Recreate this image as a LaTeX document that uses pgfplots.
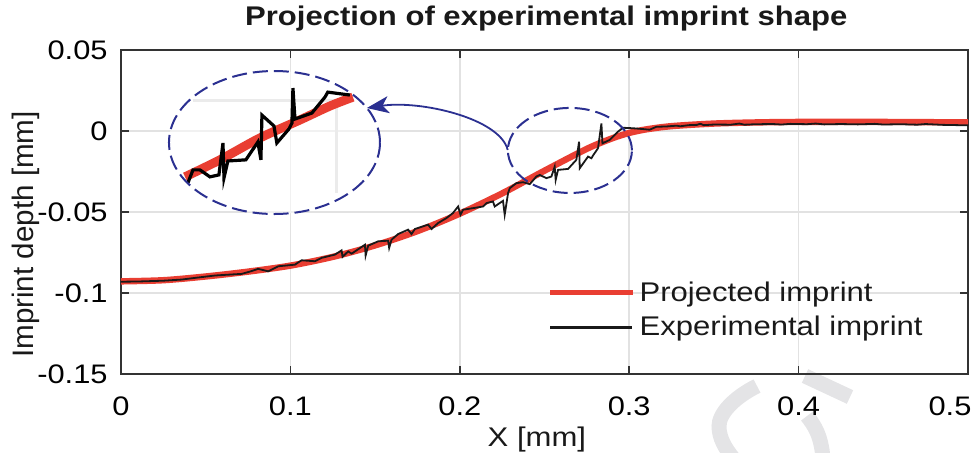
\documentclass[border=0pt]{standalone}
\usepackage{fontspec}
\usepackage{pgfplots}
\pgfplotsset{compat=1.18}
\usetikzlibrary{arrows.meta}
\newfontfamily\hfont{Liberation Sans}[FakeStretch=1.15]
\newfontfamily\vfont{Liberation Sans}
\definecolor{cred}{RGB}{233,62,50}
\definecolor{cblk}{RGB}{25,25,25}
\definecolor{cnavy}{RGB}{43,48,145}
\definecolor{cgrid}{RGB}{226,226,226}
\definecolor{caxis}{RGB}{51,51,51}
\definecolor{cwm}{RGB}{228,228,230}
\begin{document}
\begin{tikzpicture}
\useasboundingbox (-60.5pt,-39pt) rectangle (426pt,187pt);
% faint watermark strokes
\begin{scope}[cwm, line width=7.5pt]
\draw (318pt,-6pt) .. controls (306pt,-12pt) and (299pt,-20pt) .. (299pt,-26pt) .. controls (299pt,-32pt) and (302pt,-37pt) .. (306pt,-42pt);
\draw (342pt,-1pt) -- (364.5pt,-11.5pt);
\draw (343pt,-21pt) .. controls (347pt,-26pt) and (350pt,-31pt) .. (351pt,-42pt);
\end{scope}
\begin{axis}[
  at={(0,0)}, anchor=south west,
  scale only axis, width=423.5pt, height=162pt,
  xmin=0, xmax=0.5, ymin=-0.15, ymax=0.05,
  xtick={0,0.1,0.2,0.3,0.4,0.5},
  xticklabels={0,0.1,0.2,0.3,0.4,{\makebox[0pt]{\kern-18pt 0.5}}},
  ytick={-0.15,-0.1,-0.05,0,0.05},
  yticklabels={-0.15,-0.1,-0.05,0,0.05},
  xticklabel style={font=\hfont\fontsize{13.4}{15}\selectfont, anchor=base, yshift=-20.5pt, inner sep=0pt},
  yticklabel style={font=\hfont\fontsize{13.4}{15}\selectfont, anchor=east, inner sep=0pt, xshift=-6.5pt},
  grid=major,
  major grid style={cgrid, line width=0.8pt},
  axis line style={caxis, line width=0.8pt},
  tick style={caxis, line width=0.8pt},
  major tick length=4pt,
  tick align=inside,
  title={Projection of experimental imprint shape},
  title style={font=\hfont\bfseries\fontsize{13.5}{15}\selectfont, at={(axis description cs:0.502,1)}, anchor=base, yshift=6.5pt, text=cblk},
  xlabel={X [mm]},
  xlabel style={font=\hfont\fontsize{13.5}{15}\selectfont, at={(axis description cs:0.491,0)}, anchor=base, yshift=-36pt, text=cblk},
  ylabel={Imprint depth [mm]},
  ylabel style={font=\vfont\fontsize{14.8}{16}\selectfont, at={(axis description cs:-0.1035,0.4306)}, anchor=base, text=cblk},
  legend style={draw=none, fill=none, at={(axis description cs:0.503,0.1975)}, anchor=west,
    font=\hfont\fontsize{13.5}{15}\selectfont, row sep=2pt, inner sep=0pt, text=cblk},
  legend cell align=left,
]
\addplot[cred, line width=3.2pt, smooth,
  legend image code/.code={\draw[cred, line width=2.6pt] (0pt,0pt) -- (41.5pt,0pt);}]
coordinates {
(0,-0.0928) (0.025,-0.0921) (0.05,-0.0898) (0.075,-0.0868) (0.1,-0.0831)
(0.125,-0.0777) (0.15,-0.0706) (0.175,-0.0618) (0.2,-0.0510) (0.225,-0.0385)
(0.25,-0.0245) (0.275,-0.0110) (0.29,-0.0045) (0.3,-0.0012) (0.31,0.0010)
(0.325,0.0030) (0.35,0.0046) (0.375,0.0053) (0.4,0.0056) (0.45,0.0056) (0.5,0.0053)
};
\addlegendentry{Projected imprint}
\addplot[cblk, line width=0.9pt,
  legend image code/.code={\draw[cblk, line width=1.4pt] (0pt,0pt) -- (41pt,0pt);}]
coordinates {
(0.0000,-0.0930) (0.0024,-0.0930) (0.0100,-0.0929) (0.0161,-0.0927) (0.0250,-0.0924)
(0.0358,-0.0917) (0.0450,-0.0905) (0.0555,-0.0892) (0.0630,-0.0887) (0.0712,-0.0882)
(0.0760,-0.0868) (0.0810,-0.0851) (0.0869,-0.0866) (0.0928,-0.0835) (0.1027,-0.0825)
(0.1066,-0.0798) (0.1145,-0.0804) (0.1184,-0.0783) (0.1263,-0.0763) (0.1302,-0.0737)
(0.1308,-0.0777) (0.1341,-0.0743) (0.1361,-0.0757) (0.1440,-0.0702) (0.1444,-0.0769)
(0.1459,-0.0708) (0.1518,-0.0681) (0.1577,-0.0677) (0.1583,-0.0722) (0.1597,-0.0671)
(0.1636,-0.0636) (0.1695,-0.0609) (0.1715,-0.0636) (0.1735,-0.0605) (0.1813,-0.0578)
(0.1833,-0.0605) (0.1872,-0.0568) (0.1922,-0.0537) (0.1960,-0.0506) (0.1990,-0.0466)
(0.2004,-0.0517) (0.2019,-0.0486) (0.2078,-0.0476) (0.2137,-0.0466) (0.2158,-0.0445)
(0.2196,-0.0435) (0.2206,-0.0466) (0.2255,-0.0431) (0.2265,-0.0517) (0.2285,-0.0383)
(0.2295,-0.0353) (0.2334,-0.0322) (0.2373,-0.0316) (0.2413,-0.0328) (0.2452,-0.0281)
(0.2472,-0.0271) (0.2511,-0.0291) (0.2541,-0.0281) (0.2560,-0.0220) (0.2566,-0.0302)
(0.2580,-0.0240) (0.2639,-0.0234) (0.2688,-0.0178) (0.2704,-0.0066) (0.2708,-0.0230)
(0.2757,-0.0158) (0.2777,-0.0168) (0.2786,-0.0152) (0.2816,-0.0106) (0.2836,0.0047)
(0.2842,-0.0076) (0.2885,-0.0055) (0.2934,-0.0004) (0.2963,0.0020) (0.3023,0.0017)
(0.3081,0.0012) (0.3121,0.0008) (0.3160,0.0026) (0.3220,0.0028) (0.3280,0.0033)
(0.3300,0.0029) (0.3350,0.0036) (0.3400,0.0038) (0.3420,0.0045) (0.3440,0.0036)
(0.3500,0.0040) (0.3600,0.0039) (0.3650,0.0046) (0.3680,0.0039) (0.3750,0.0042)
(0.3850,0.0043) (0.3900,0.0040) (0.3950,0.0044) (0.4050,0.0042) (0.4100,0.0046)
(0.4150,0.0041) (0.4250,0.0043) (0.4350,0.0041) (0.4450,0.0044) (0.4500,0.0040)
(0.4600,0.0042) (0.4700,0.0039) (0.4750,0.0043) (0.4850,0.0038) (0.4950,0.0036)
(0.5000,0.0035)
};
\addlegendentry{Experimental imprint}
% magnified inset
\fill[white, opacity=0.55] (axis cs:0.0906,-0.0071) ellipse [x radius=52.75pt, y radius=35.75pt];
\draw[cgrid!70!white, line width=1.5pt] (axis cs:0.0425,0.0191) -- (axis cs:0.1274,0.0191) -- (axis cs:0.1274,-0.0382);
\addplot[cred, line width=4.5pt, smooth, forget plot] coordinates {
(0.0378,-0.0283) (0.0584,-0.0178) (0.0820,-0.0043) (0.1056,0.0068) (0.1233,0.0154) (0.1369,0.0209)
};
\addplot[black, line width=1.6pt, forget plot] coordinates {
(0.0395,-0.0320) (0.0425,-0.0240) (0.0466,-0.0240) (0.0525,-0.0283) (0.0578,-0.0271)
(0.0602,-0.0074) (0.0608,-0.0289) (0.0631,-0.0185) (0.0737,-0.0178) (0.0808,-0.0068)
(0.0826,-0.0178) (0.0832,0.0098) (0.0903,0.0031) (0.0920,-0.0074) (0.0991,0.0012)
(0.1009,0.0049) (0.1015,0.0265) (0.1027,0.0074) (0.1127,0.0111) (0.1204,0.0209)
(0.1221,0.0240) (0.1351,0.0222)
};
\draw[cnavy, line width=1pt, dash pattern=on 7.5pt off 3pt] (axis cs:0.0906,-0.0071) ellipse [x radius=52.75pt, y radius=35.75pt];
\draw[cnavy, line width=1pt, dash pattern=on 7.5pt off 3pt] (axis cs:0.265,-0.012) ellipse [x radius=31pt, y radius=21.25pt];
\draw[cnavy, line width=0.9pt, -{Stealth[length=11pt, width=8.5pt, inset=3pt]}]
  (axis cs:0.2283,-0.0117) .. controls (axis cs:0.2236,0.0080) and (axis cs:0.1764,0.0191) .. (axis cs:0.1451,0.0142);
\end{axis}
\end{tikzpicture}
\end{document}
